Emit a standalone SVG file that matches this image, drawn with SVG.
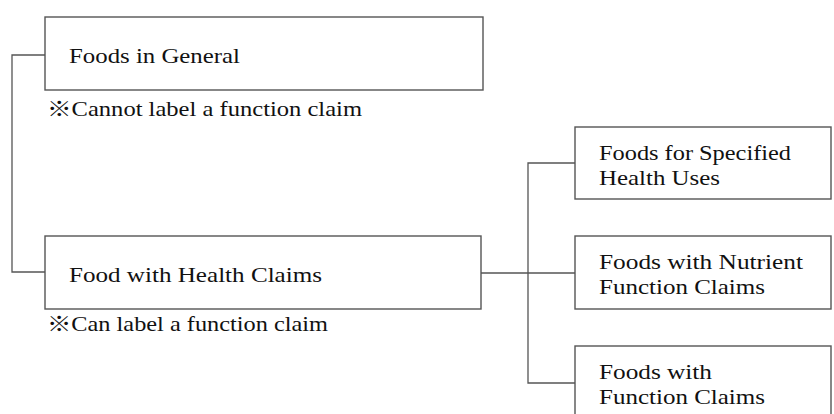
<svg xmlns="http://www.w3.org/2000/svg" width="834" height="414" viewBox="0 0 834 414">
<style>
.box{fill:#fff;stroke:#555;stroke-width:1.4}
.ln{fill:none;stroke:#555;stroke-width:1.3}
text{font-family:"Liberation Serif","Noto Sans CJK JP",serif;font-size:21px;fill:#111}
</style>
<rect width="834" height="414" fill="#fff"/>
<g id="connectors">
<polyline class="ln" points="45,55 12,55 12,272 45,272"/>
<line class="ln" x1="481" y1="273" x2="575" y2="273"/>
<polyline class="ln" points="575,163 528,163 528,383 575,383"/>
</g>
<g id="foods-general">
<rect class="box" x="45" y="17" width="438" height="73"/>
<text x="69" y="63" textLength="171" lengthAdjust="spacingAndGlyphs">Foods in General</text>
</g>
<text id="note1" x="47" y="116" textLength="315" lengthAdjust="spacingAndGlyphs">※Cannot label a function claim</text>
<g id="food-health-claims">
<rect class="box" x="45" y="236" width="436" height="73"/>
<text x="69" y="282" textLength="253" lengthAdjust="spacingAndGlyphs">Food with Health Claims</text>
</g>
<text id="note2" x="47" y="331" textLength="281" lengthAdjust="spacingAndGlyphs">※Can label a function claim</text>
<g id="fosfhu">
<rect class="box" x="575" y="127" width="256" height="72"/>
<text x="599" y="160" textLength="192" lengthAdjust="spacingAndGlyphs">Foods for Specified</text>
<text x="599" y="185" textLength="121" lengthAdjust="spacingAndGlyphs">Health Uses</text>
</g>
<g id="fnfc">
<rect class="box" x="575" y="236" width="256" height="73"/>
<text x="599" y="269" textLength="204" lengthAdjust="spacingAndGlyphs">Foods with Nutrient</text>
<text x="599" y="294" textLength="166" lengthAdjust="spacingAndGlyphs">Function Claims</text>
</g>
<g id="ffc">
<rect class="box" x="575" y="346" width="256" height="80"/>
<text x="599" y="379" textLength="113" lengthAdjust="spacingAndGlyphs">Foods with</text>
<text x="599" y="404" textLength="166" lengthAdjust="spacingAndGlyphs">Function Claims</text>
</g>
</svg>
